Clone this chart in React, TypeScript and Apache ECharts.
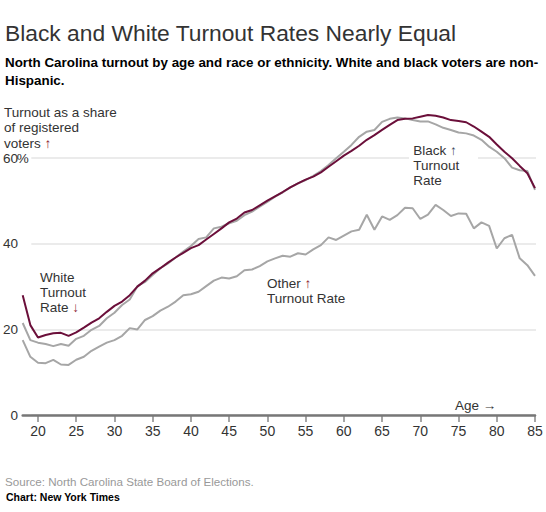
import React, { useEffect, useRef } from "react";
import * as echarts from "echarts";

const AGES = [18, 19, 20, 21, 22, 23, 24, 25, 26, 27, 28, 29, 30, 31, 32, 33, 34, 35, 36, 37, 38, 39, 40, 41, 42, 43, 44, 45, 46, 47, 48, 49, 50, 51, 52, 53, 54, 55, 56, 57, 58, 59, 60, 61, 62, 63, 64, 65, 66, 67, 68, 69, 70, 71, 72, 73, 74, 75, 76, 77, 78, 79, 80, 81, 82, 83, 84, 85];

const BLACK = [28.0, 21.0, 18.1, 18.7, 19.1, 19.2, 18.5, 19.3, 20.4, 21.6, 22.6, 24.1, 25.5, 26.5, 28.0, 30.0, 31.4, 33.1, 34.3, 35.6, 36.8, 37.9, 39.0, 39.7, 41.0, 42.3, 43.6, 45.0, 45.9, 47.3, 47.9, 49.0, 50.1, 51.1, 52.1, 53.2, 54.1, 55.0, 55.7, 56.7, 58.0, 59.3, 60.6, 61.7, 62.9, 64.3, 65.4, 66.6, 67.8, 68.9, 69.2, 69.3, 69.7, 70.1, 69.9, 69.5, 68.9, 68.7, 68.4, 67.4, 66.2, 65.0, 63.2, 61.5, 60.0, 58.2, 56.5, 53.0];

const WHITE = [21.5, 17.5, 16.9, 16.6, 16.1, 16.6, 16.2, 17.8, 18.5, 19.9, 20.8, 22.6, 23.9, 25.7, 27.0, 30.1, 31.1, 32.7, 34.3, 35.4, 36.8, 38.2, 39.5, 41.1, 41.5, 43.6, 44.0, 44.8, 45.4, 46.7, 47.5, 48.7, 49.8, 51.0, 52.0, 53.2, 54.1, 54.9, 55.9, 57.0, 58.4, 60.0, 61.5, 63.1, 65.0, 66.2, 66.6, 68.5, 69.2, 69.5, 69.3, 68.9, 68.6, 68.6, 67.9, 67.1, 66.6, 66.0, 65.8, 65.3, 64.3, 62.7, 61.5, 60.0, 57.8, 57.2, 57.0, 52.6];

const OTHER = [17.5, 13.6, 12.2, 12.1, 12.9, 11.8, 11.7, 12.9, 13.6, 15.0, 16.0, 16.9, 17.5, 18.5, 20.3, 20.0, 22.2, 23.1, 24.4, 25.3, 26.5, 28.0, 28.2, 28.8, 30.1, 31.4, 32.1, 31.9, 32.4, 33.8, 34.0, 34.8, 35.9, 36.6, 37.2, 37.0, 37.8, 37.5, 38.7, 39.7, 41.5, 40.9, 41.9, 42.9, 43.3, 46.8, 43.3, 46.4, 45.6, 46.7, 48.4, 48.3, 45.8, 46.8, 49.1, 47.9, 46.5, 47.1, 47.0, 43.6, 45.0, 44.2, 38.9, 41.3, 42.1, 36.6, 35.0, 32.5];

const X_TICKS = [20, 25, 30, 35, 40, 45, 50, 55, 60, 65, 70, 75, 80, 85];
const Y_TICKS = [0, 20, 40, 60];

const FONT = "'Liberation Sans', Arial, Helvetica, sans-serif";
const MAROON = "#6b0f3a";
const GRAY = "#a6a6a6";
const ARROW_RED = "#8c2232";

function pairs(vals: number[]) {
  return AGES.map((a, i) => [a, vals[i]]);
}

export default function App() {
  const ref = useRef<HTMLDivElement>(null);
  useEffect(() => {
    document.body.style.margin = "0";
    const chart = echarts.init(ref.current!, null, { renderer: "svg" });
    const option: any = {
      animation: false,
      backgroundColor: "#fff",
      textStyle: { fontFamily: FONT },
      grid: [
        { left: 22.7, right: 11, top: 158.2, bottom: 97, containLabel: false },
        { left: 30, right: 10, top: 158.2, bottom: 97, containLabel: false },
      ],
      xAxis: [
        {
          gridIndex: 0, type: "value", min: 18, max: 85, z: 1,
          axisLine: { show: true, onZero: false, lineStyle: { color: "#777", width: 2.5 } },
          axisTick: { show: false }, axisLabel: { show: false }, splitLine: { show: false },
        },
        {
          gridIndex: 0, type: "value", min: 18, max: 85, position: "bottom", offset: 4,
          axisLine: { show: false },
          axisTick: { show: true, customValues: X_TICKS, length: 7, lineStyle: { color: "#888", width: 1.5 } },
          axisLabel: { show: true, customValues: X_TICKS, fontSize: 14, color: "#333", margin: 5, fontFamily: FONT },
          splitLine: { show: false },
        },
        { gridIndex: 1, type: "value", min: 0, max: 1, show: false },
      ],
      yAxis: [
        { gridIndex: 0, type: "value", min: 0, max: 60, show: false },
        {
          gridIndex: 1, type: "value", min: 0, max: 60, interval: 20,
          axisLine: { show: false }, axisTick: { show: false },
          splitLine: { show: true, lineStyle: { color: "#e4e4e4", width: 1.5 } },
          axisLabel: {
            show: true, align: "right", margin: 13.3, fontSize: 13.5, color: "#333", fontFamily: FONT,
            customValues: Y_TICKS,
            formatter: (v: number) => String(v),
          },
        },
      ],
      series: [
        {
          name: "Other", type: "line", xAxisIndex: 0, yAxisIndex: 0, data: pairs(OTHER),
          showSymbol: false, clip: false, lineStyle: { color: GRAY, width: 2 }, z: 3,
        },
        {
          name: "White", type: "line", xAxisIndex: 0, yAxisIndex: 0, data: pairs(WHITE),
          showSymbol: false, clip: false, lineStyle: { color: GRAY, width: 2 }, z: 3,
        },
        {
          name: "Black", type: "line", xAxisIndex: 0, yAxisIndex: 0, data: pairs(BLACK),
          showSymbol: false, clip: false, lineStyle: { color: MAROON, width: 2 }, z: 4,
        },
      ],
      graphic: [
        {
          type: "text", left: 5, top: 21, z: 10,
          style: { text: "Black and White Turnout Rates Nearly Equal", font: `22.8px ${FONT}`, fill: "#333" },
        },
        {
          type: "text", x: 5, y: 53.6, z: 10,
          style: {
            text: "North Carolina turnout by age and race or ethnicity. White and black voters are non-\nHispanic.",
            font: `bold 13.4px ${FONT}`, fill: "#000", lineHeight: 18, verticalAlign: "top",
          },
        },
        {
          type: "text", x: 4, y: 104.5, z: 10,
          style: {
            text: "Turnout as a share\nof registered\nvoters {r|↑}",
            font: `13.5px ${FONT}`, fill: "#333", lineHeight: 15.5, verticalAlign: "top",
            rich: { r: { fill: ARROW_RED, fontSize: 13.5, fontFamily: FONT, lineHeight: 15.5 } },
          },
        },
        {
          type: "text", x: 16.7, y: 158.2, z: 10,
          style: { text: "%", font: `13.5px ${FONT}`, fill: "#333", verticalAlign: "middle", align: "left" },
        },
        {
          type: "text", x: 455, y: 405, z: 10,
          style: { text: "Age →", font: `13.5px ${FONT}`, fill: "#333", verticalAlign: "middle" },
        },
        {
          type: "text", x: 40, y: 269.7, z: 10,
          style: {
            text: "White\nTurnout\nRate {r|↓}",
            font: `13.5px ${FONT}`, fill: "#333", lineHeight: 15, verticalAlign: "top",
            rich: { r: { fill: ARROW_RED, fontSize: 13.5, fontFamily: FONT, lineHeight: 15 } },
          },
        },
        {
          type: "text", x: 267, y: 276.3, z: 10,
          style: {
            text: "Other {r|↑}\nTurnout Rate",
            font: `13.5px ${FONT}`, fill: "#333", lineHeight: 15, verticalAlign: "top",
            rich: { r: { fill: ARROW_RED, fontSize: 13.5, fontFamily: FONT, lineHeight: 15 } },
          },
        },
        {
          type: "rect", z: 1,
          shape: { x: 409, y: 142, width: 69, height: 46 },
          style: { fill: "#fff" },
        },
        {
          type: "text", x: 413.3, y: 143, z: 10,
          style: {
            text: "Black {r|↑}\nTurnout\nRate",
            font: `13.5px ${FONT}`, fill: "#333", lineHeight: 15, verticalAlign: "top",
            rich: { r: { fill: "#3d4a5c", fontSize: 13.5, fontFamily: FONT, lineHeight: 15 } },
          },
        },
        {
          type: "text", x: 5, y: 481, z: 10,
          style: { text: "Source: North Carolina State Board of Elections.", font: `11.6px ${FONT}`, fill: "#999", verticalAlign: "middle" },
        },
        {
          type: "text", x: 6, y: 496.6, z: 10,
          style: { text: "Chart: New York Times", font: `bold 10.5px ${FONT}`, fill: "#000", verticalAlign: "middle" },
        },
      ],
    };
    chart.setOption(option);
    return () => chart.dispose();
  }, []);
  return <div ref={ref} style={{ width: 546, height: 512 }} />;
}
